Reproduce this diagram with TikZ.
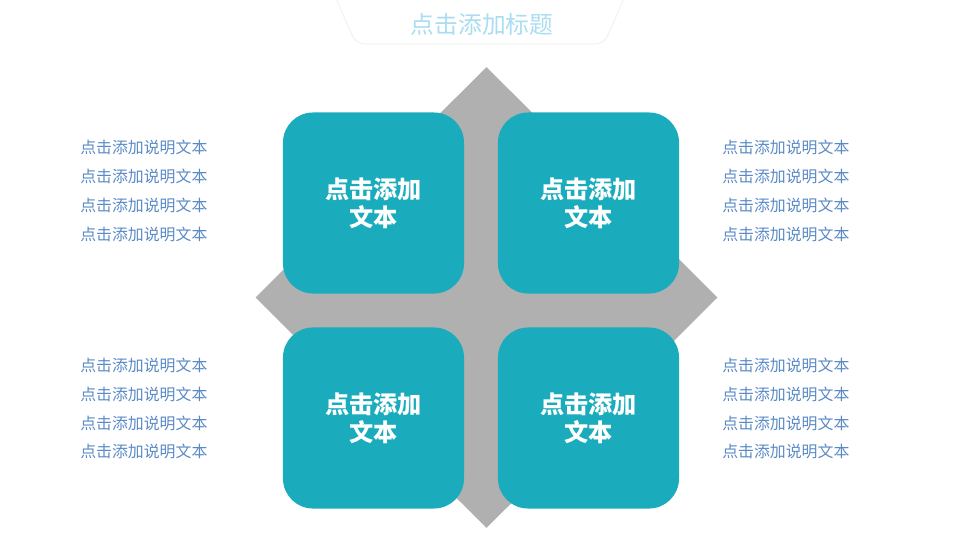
\documentclass[tikz,border=0pt]{standalone}
\usepackage{fontspec}
\setmainfont{Noto Sans CJK SC}
\usetikzlibrary{shapes.geometric}
\definecolor{tilecol}{HTML}{1AACBC}
\definecolor{crosscol}{HTML}{B0B0B0}
\definecolor{notecol}{HTML}{5A8AC6}
\definecolor{headcol}{HTML}{A9DDF1}
\begin{document}
\begin{tikzpicture}
  [x=0.025cm,y=-0.025cm,
   tile/.style={fill=tilecol,rounded corners=0.75cm,minimum size=4.525cm,inner sep=0pt,
     text=white,align=center,font=\fontsize{17.2pt}{20pt}\selectfont\bfseries},
   note/.style={anchor=west,inner sep=0pt,text=notecol,font=\fontsize{11.3pt}{13pt}\selectfont}]
  \useasboundingbox (0,0) rectangle (960,540);

  % title frame
  \draw[gray!10,line width=0.8pt,rounded corners=6pt] (335,-4) -- (356,44) -- (604,44) -- (625,-4);
  \node (title)[text=headcol,font=\fontsize{16.9pt}{20pt}\selectfont] at (482,24) {点击添加标题};

  \node (cross)[diamond,fill=crosscol,minimum width=11.55cm,minimum height=11.525cm,inner sep=0pt] at (486.5,297.5) {};

  \node (t1)[tile] at (373.5,203) {点击添加\\文本};
  \node (t2)[tile] at (588.5,203) {点击添加\\文本};
  \node (t3)[tile] at (373.5,418) {点击添加\\文本};
  \node (t4)[tile] at (588.5,418) {点击添加\\文本};

  \foreach \x in {80,722}
    \foreach \y in {147,176,205,234,365,394,423,451}
      \node[note] at (\x,\y) {点击添加说明文本};

\end{tikzpicture}
\end{document}
